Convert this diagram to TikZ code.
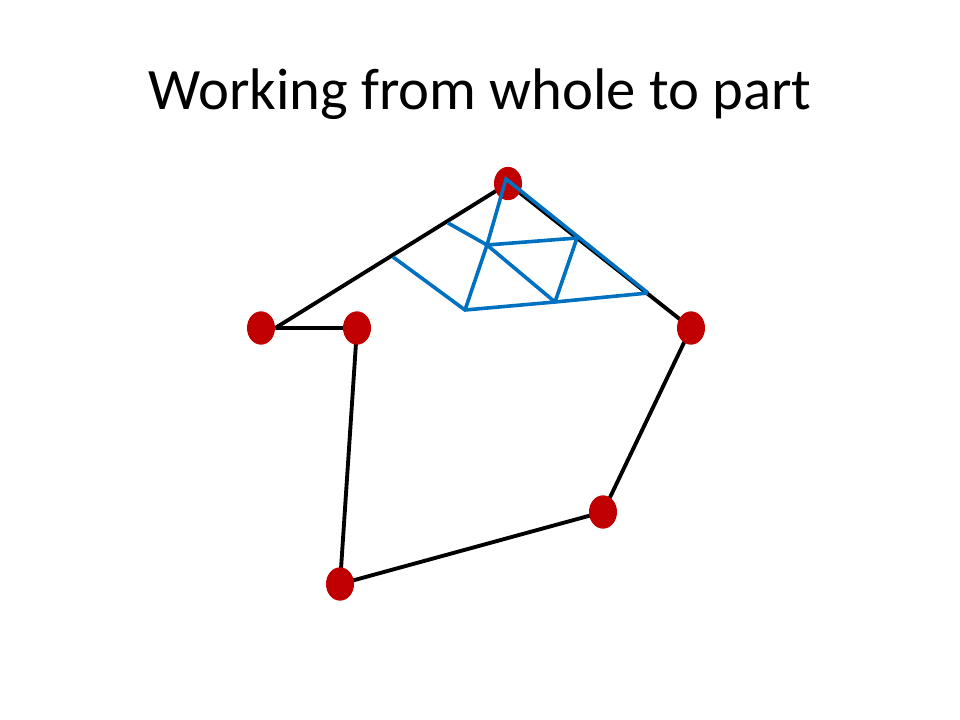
\documentclass[tikz,border=0pt]{standalone}
\usepackage{fontspec}
\setmainfont{Carlito}
\usetikzlibrary{shapes.geometric,backgrounds}

\definecolor{ponto}{RGB}{192,0,0}
\definecolor{malha}{RGB}{0,112,192}

\tikzset{
	vertice/.style={ellipse,fill=ponto,draw=none,minimum width=21pt,minimum height=25pt,inner sep=0pt},
	contorno/.style={line width=2.9pt,black},
	aresta/.style={line width=2.7pt,malha,line join=miter}
}

\begin{document}
\begin{tikzpicture}[x=0.75pt,y=-0.75pt]
	\useasboundingbox (0,0) rectangle (960,720);
	
	% Titulo
	\node[anchor=base] (titulo) at (480,110) {\fontsize{44pt}{52pt}\selectfont Working from whole to part};
	
	% Vertices
	\node[vertice] (T) at (508,183.5) {};
	\node[vertice] (R) at (691,328) {};
	\node[vertice] (S) at (603,512) {};
	\node[vertice] (B) at (340,584) {};
	\node[vertice] (M) at (357,328) {};
	\node[vertice] (L) at (261,328) {};
	
	% Contorno (por baixo dos pontos)
	\begin{scope}[on background layer]
	\draw[contorno] (L.east) -- (T.center) -- (R.center) -- (S.center) -- (B.center) -- (M.center) -- (L.east);
	\end{scope}
	
	% Malha
	\coordinate (P0) at (506,179);
	\coordinate (P1) at (448,223);
	\coordinate (P2) at (393,257);
	\coordinate (P3) at (465,310);
	\coordinate (P4) at (487,245);
	\coordinate (P5) at (577,238);
	\coordinate (P6) at (555,302);
	\coordinate (P7) at (648,293);
	
	% Arestas da malha
	\draw[aresta] (P7) -- (P0) -- (P4) -- (P3);
	\draw[aresta] (P1) -- (P4) -- (P6);
	\draw[aresta] (P2) -- (P3) -- (P6) -- (P7);
	\draw[aresta] (P4) -- (P5) -- (P6);
\end{tikzpicture}
\end{document}
